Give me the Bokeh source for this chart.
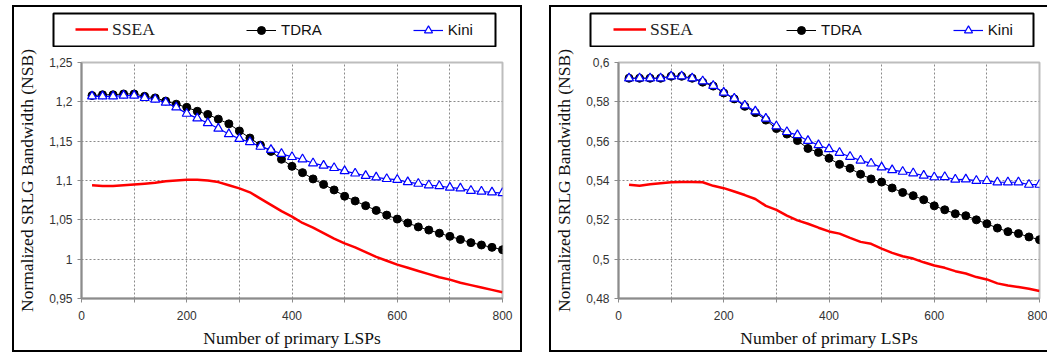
from bokeh.plotting import figure
from bokeh.models import (Range1d, FixedTicker, CustomJSTickFormatter, Legend, LegendItem,
                          ColumnDataSource, Spacer)
from bokeh.layouts import row, column
from bokeh.embed import file_html
from bokeh.resources import INLINE

# ---------------- data ----------------
lsps = [20, 40, 60, 80, 100, 120, 140, 160, 180, 200,
        220, 240, 260, 280, 300, 320, 340, 360, 380, 400,
        420, 440, 460, 480, 500, 520, 540, 560, 580, 600,
        620, 640, 660, 680, 700, 720, 740, 760, 780, 800]

# left panel
ssea_left = [1.094, 1.093, 1.093, 1.094, 1.095, 1.096, 1.097, 1.099, 1.100, 1.101,
             1.101, 1.100, 1.098, 1.094, 1.090, 1.085, 1.077, 1.069, 1.061, 1.054,
             1.046, 1.040, 1.033, 1.026, 1.020, 1.015, 1.009, 1.003, 0.998, 0.993,
             0.989, 0.985, 0.981, 0.977, 0.974, 0.970, 0.967, 0.964, 0.961, 0.958]
tdra_left = [1.208, 1.209, 1.209, 1.210, 1.210, 1.207, 1.205, 1.201, 1.197, 1.193,
             1.188, 1.184, 1.178, 1.172, 1.163, 1.154, 1.145, 1.137, 1.127, 1.118,
             1.110, 1.102, 1.095, 1.088, 1.080, 1.074, 1.068, 1.062, 1.056, 1.051,
             1.046, 1.041, 1.037, 1.033, 1.029, 1.025, 1.021, 1.018, 1.015, 1.012]
kini_left = [1.207, 1.207, 1.207, 1.208, 1.208, 1.205, 1.203, 1.199, 1.193, 1.185,
             1.179, 1.173, 1.166, 1.159, 1.153, 1.149, 1.143, 1.139, 1.134, 1.130,
             1.127, 1.122, 1.119, 1.116, 1.112, 1.109, 1.106, 1.104, 1.102, 1.101,
             1.098, 1.096, 1.094, 1.093, 1.091, 1.090, 1.087, 1.086, 1.085, 1.084]

# right panel
ssea_right = [0.5378, 0.5373, 0.5381, 0.5386, 0.5391, 0.5393, 0.5393, 0.5391, 0.5373, 0.5361,
              0.5344, 0.5326, 0.5306, 0.5271, 0.5251, 0.5221, 0.5197, 0.5180, 0.5160, 0.5141,
              0.5130, 0.5108, 0.5088, 0.5078, 0.5054, 0.5032, 0.5015, 0.5003, 0.4984, 0.4968,
              0.4956, 0.4939, 0.4927, 0.4909, 0.4897, 0.4877, 0.4866, 0.4858, 0.4850, 0.4838]
tdra_right = [0.5920, 0.5920, 0.5920, 0.5920, 0.5930, 0.5930, 0.5920, 0.5900, 0.5880, 0.5845,
              0.5815, 0.5777, 0.5745, 0.5707, 0.5664, 0.5636, 0.5603, 0.5563, 0.5543, 0.5513,
              0.5482, 0.5462, 0.5432, 0.5408, 0.5392, 0.5362, 0.5339, 0.5323, 0.5302, 0.5271,
              0.5251, 0.5231, 0.5221, 0.5200, 0.5180, 0.5158, 0.5140, 0.5130, 0.5113, 0.5099]
kini_right = [0.5920, 0.5920, 0.5920, 0.5920, 0.5930, 0.5930, 0.5920, 0.5905, 0.5882, 0.5847,
              0.5817, 0.5782, 0.5752, 0.5715, 0.5676, 0.5647, 0.5631, 0.5602, 0.5580, 0.5560,
              0.5541, 0.5521, 0.5502, 0.5487, 0.5467, 0.5453, 0.5445, 0.5437, 0.5425, 0.5417,
              0.5418, 0.5405, 0.5406, 0.5399, 0.5398, 0.5391, 0.5391, 0.5391, 0.5379, 0.5379]

yticks_left = [0.95, 1.0, 1.05, 1.1, 1.15, 1.2, 1.25]
yticks_right = [0.48, 0.5, 0.52, 0.54, 0.56, 0.58, 0.6]
xticks = [0, 200, 400, 600, 800]
xminor = [100, 300, 500, 700]

series_names = ["SSEA", "TDRA", "Kini"]
x_title = "Number of primary LSPs"
y_title = "Normalized SRLG Bandwidth (NSB)"

SSEA_STYLE = dict(line_color="#ff0000", line_width=2.5)
TDRA_LINE = dict(line_color="black", line_width=1)
TDRA_MARK = dict(marker="circle", size=8, fill_color="black", line_color="black")
KINI_LINE = dict(line_color="#0000ff", line_width=1.2)
KINI_MARK = dict(marker="triangle", size=9, fill_color="white", line_color="#0000ff", line_width=1.2)


def draw_series(p, src):
    r_s = p.line("x", "ssea", source=src, **SSEA_STYLE)
    r_tl = p.line("x", "tdra", source=src, **TDRA_LINE)
    r_ts = p.scatter("x", "tdra", source=src, **TDRA_MARK)
    r_kl = p.line("x", "kini", source=src, **KINI_LINE)
    r_ks = p.scatter("x", "kini", source=src, **KINI_MARK)
    return r_s, r_tl, r_ts, r_kl, r_ks


def make_main(src, yr, yticks, width, bl, br):
    p = figure(width=width, height=303, output_backend="svg", toolbar_location=None,
               x_range=Range1d(0, 800), y_range=Range1d(*yr),
               min_border_left=bl, min_border_right=br, min_border_top=15, min_border_bottom=51,
               background_fill_color="white", border_fill_color="white", frame_align=False)
    draw_series(p, src)

    p.xaxis.ticker = FixedTicker(ticks=xticks, minor_ticks=xminor)
    p.yaxis.ticker = FixedTicker(ticks=yticks)
    p.yaxis.formatter = CustomJSTickFormatter(
        code="return String(Math.round(tick*100)/100).replace('.', ',');")
    for ax in (p.xaxis, p.yaxis):
        ax.axis_line_color = "#8c8c8c"
        ax.axis_line_width = 2
        ax.major_tick_line_color = "#8c8c8c"
        ax.major_tick_out = 4
        ax.major_tick_in = 0
        ax.major_label_text_font = "Liberation Sans"
        ax.major_label_text_font_size = "12px"
        ax.major_label_text_color = "#333333"
        ax.axis_label_text_font = "Liberation Serif"
        ax.axis_label_text_font_size = "17.5px"
        ax.axis_label_text_font_style = "normal"
        ax.axis_label_text_color = "#111111"
    p.xaxis.minor_tick_line_color = "#8c8c8c"
    p.xaxis.minor_tick_out = 4
    p.xaxis.minor_tick_in = 0
    p.yaxis.minor_tick_line_color = None
    p.xaxis.major_label_standoff = 8
    p.yaxis.major_label_standoff = 5
    p.xaxis.axis_label = x_title
    p.yaxis.axis_label = y_title
    p.xaxis.axis_label_standoff = 5
    p.yaxis.axis_label_standoff = 9

    for g in (p.xgrid, p.ygrid):
        g.grid_line_color = "#8a8a8a"
        g.grid_line_dash = "2 2"
        g.grid_line_width = 1
    p.xgrid.minor_grid_line_color = "#8a8a8a"
    p.xgrid.minor_grid_line_dash = "2 2"
    p.xgrid.minor_grid_line_width = 1

    p.outline_line_color = "#bdbdbd"
    p.outline_line_width = 2
    return p


def make_legend_fig(src, width, bl, br, loc_a, loc_b):
    # the frame of this small figure is the legend box; the series sit far outside its y range
    q = figure(width=width, height=40, output_backend="svg", toolbar_location=None,
               x_range=Range1d(0, 800), y_range=Range1d(50, 51),
               x_axis_location=None, y_axis_location=None,
               min_border_left=bl, min_border_right=br, min_border_top=6, min_border_bottom=1,
               background_fill_color="white", border_fill_color="white", frame_align=False)
    q.grid.visible = False
    q.outline_line_color = "black"
    q.outline_line_width = 2
    r_s, r_tl, r_ts, r_kl, r_ks = draw_series(q, src)
    leg_a = Legend(items=[LegendItem(label=series_names[0], renderers=[r_s])],
                   location=loc_a, orientation="horizontal",
                   border_line_color=None, background_fill_alpha=0,
                   label_text_font="Liberation Serif", label_text_font_size="17.5px",
                   label_text_color="#222222",
                   glyph_width=33, label_standoff=4, padding=5, margin=0)
    leg_b = Legend(items=[LegendItem(label=series_names[1], renderers=[r_tl, r_ts]),
                          LegendItem(label=series_names[2], renderers=[r_kl, r_ks])],
                   location=loc_b, orientation="horizontal", spacing=91,
                   border_line_color=None, background_fill_alpha=0,
                   label_text_font="Liberation Sans", label_text_font_size="15px",
                   label_text_color="#111111",
                   glyph_width=30, label_standoff=5, padding=5, margin=0)
    q.add_layout(leg_a)
    q.add_layout(leg_b)
    return q


src_l = ColumnDataSource(dict(x=lsps, ssea=ssea_left, tdra=tdra_left, kini=kini_left))
src_r = ColumnDataSource(dict(x=lsps, ssea=ssea_right, tdra=tdra_right, kini=kini_right))

leg_l = make_legend_fig(src_l, 506, 39, 25, (22, 6.5), (193, 6.5))
main_l = make_main(src_l, (0.95, 1.25), yticks_left, 506, 65, 18)
leg_r = make_legend_fig(src_r, 496, 39, 14, (23, 6.5), (196, 6.5))
main_r = make_main(src_r, (0.48, 0.6), yticks_right, 496, 65, 8)

col_l = column(leg_l, main_l, styles={"border": "2px solid black"})
col_r = column(leg_r, main_r, styles={"border": "2px solid black", "border-right": "none"})

layout = row(Spacer(width=12, height=5), col_l, Spacer(width=27, height=5), col_r,
             styles={"margin-top": "5px"})
open("out.html", "w").write(file_html(layout, INLINE))
